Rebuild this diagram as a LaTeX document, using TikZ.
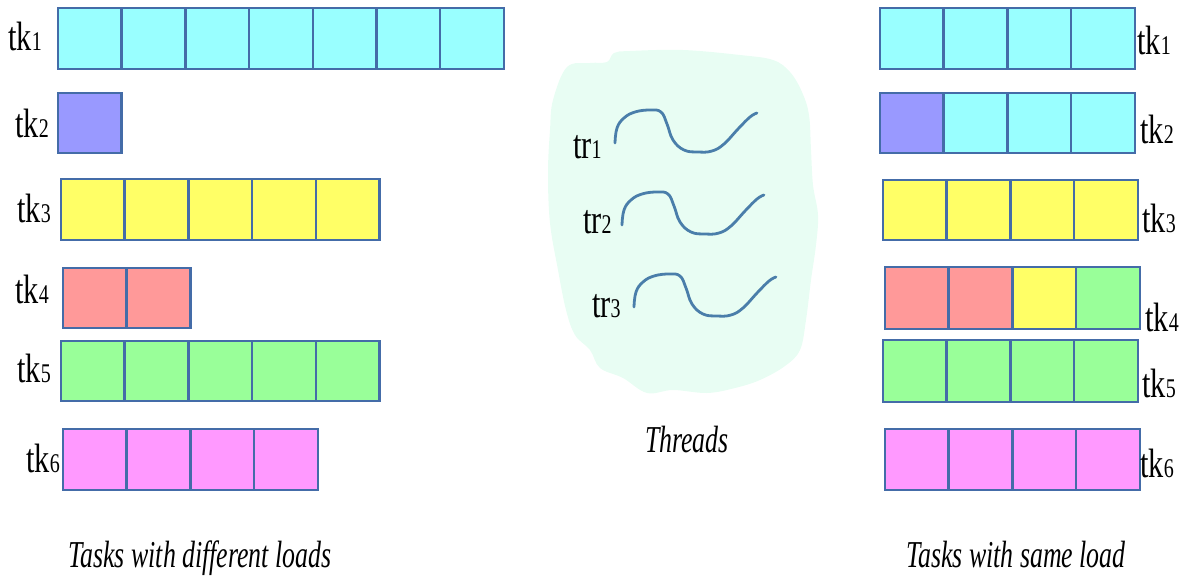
\documentclass[tikz,border=0pt]{standalone}
\usepackage{fontspec}
\setmainfont{Liberation Serif}
\newfontfamily\labfont[FakeStretch=0.74]{Liberation Serif}
\newfontfamily\capfont[FakeStretch=0.68]{Liberation Serif Italic}
\definecolor{bordc}{RGB}{68,108,168}
\definecolor{cyc}{RGB}{153,255,255}
\definecolor{puc}{RGB}{153,153,255}
\definecolor{yec}{RGB}{255,255,102}
\definecolor{rec}{RGB}{255,153,153}
\definecolor{grc}{RGB}{153,255,153}
\definecolor{mac}{RGB}{255,153,255}
\definecolor{blobc}{RGB}{232,253,243}
\definecolor{wavec}{RGB}{74,126,170}
\newcommand\dig[1]{{\fontsize{27}{27}\selectfont #1}}
\newcommand\taskrow[5]{%
  \foreach \c [count=\i] in {#5} {
    \node[cell, fill=\c, minimum height=#4 pt-#3 pt] (#1-\i) at ({#2+(\i-0.5)*63.7},{(#3+#4)/2}) {};
  }}
\tikzset{
  cell/.style={draw=bordc, line width=2.5pt, minimum width=63.7pt, inner sep=0pt, outer sep=0pt},
  lab/.style={font=\labfont\fontsize{41}{41}\selectfont, inner sep=0pt, anchor=base west},
  capt/.style={font=\capfont\fontsize{38}{38}\selectfont, inner sep=0pt, anchor=base},
  wave/.style={draw=wavec, line width=2.8pt, line cap=round}
}
\begin{document}
\begin{tikzpicture}[x=1pt,y=-1pt]
\useasboundingbox (0,0) rectangle (1189,581);
% left rows
\taskrow{L1}{58}{8}{69}{cyc,cyc,cyc,cyc,cyc,cyc,cyc}
\taskrow{L2}{58}{93}{153}{puc}
\taskrow{L3}{61}{179}{240}{yec,yec,yec,yec,yec}
\taskrow{L4}{63}{268}{328}{rec,rec}
\taskrow{L5}{61}{341}{401}{grc,grc,grc,grc,grc}
\taskrow{L6}{63}{429}{490}{mac,mac,mac,mac}
% right rows
\taskrow{R1}{880}{8}{69}{cyc,cyc,cyc,cyc}
\taskrow{R2}{880}{93}{153}{puc,cyc,cyc,cyc}
\taskrow{R3}{883}{180}{240}{yec,yec,yec,yec}
\taskrow{R4}{885}{267}{329}{rec,rec,yec,grc}
\taskrow{R5}{883}{340}{402}{grc,grc,grc,grc}
\taskrow{R6}{885}{429}{490}{mac,mac,mac,mac}
% left labels
\node[lab] (lt1) at (8,50) {tk\dig{1}};
\node[lab] (lt2) at (15,137) {tk\dig{2}};
\node[lab] (lt3) at (17,222) {tk\dig{3}};
\node[lab] (lt4) at (15,303) {tk\dig{4}};
\node[lab] (lt5) at (17,382) {tk\dig{5}};
\node[lab] (lt6) at (26,472) {tk\dig{6}};
% right labels
\node[lab] (rt1) at (1137,54) {tk\dig{1}};
\node[lab] (rt2) at (1140,143) {tk\dig{2}};
\node[lab] (rt3) at (1142,232) {tk\dig{3}};
\node[lab] (rt4) at (1145,331) {tk\dig{4}};
\node[lab] (rt5) at (1142,397) {tk\dig{5}};
\node[lab] (rt6) at (1140,477) {tk\dig{6}};
% threads blob
\fill[blobc] plot[smooth cycle, tension=0.6] coordinates {
 (553,100) (567,67) (590,63) (607,62) (614,53) (630,51) (683,50) (740,55) (773,60)
 (790,72) (802,92) (809,115) (811,150) (813,185) (818,215) (816,245) (811,280)
 (806,320) (800,350) (785,366) (760,380) (735,388) (707,393) (673,390) (647,393)
 (623,378) (600,368) (590,350) (575,335) (566,310) (558,270) (550,223) (548,173) (550,130)};
% waves
\foreach \dx/\dy [count=\k] in {0/0, 7/82, 19/164} {
  \draw[wave, shift={(\dx,\dy)}] plot[smooth, tension=0.7] coordinates {
    (615,143) (617,128) (624,118) (635,112) (650,110) (661,112)
    (667,124) (673,140) (684,150) (698,152) (712,151) (724,144) (738,129) (750,117) (757,113)};
}
\node[lab] (tr1) at (573,158) {tr\dig{1}};
\node[lab] (tr2) at (583,233) {tr\dig{2}};
\node[lab] (tr3) at (592,317) {tr\dig{3}};
% captions
\node[capt] (thr) at (687,452) {Threads};
\node[capt] (cl) at (200,567) {Tasks with different loads};
\node[capt] (cr) at (1016,567) {Tasks with same load};
\end{tikzpicture}
\end{document}
